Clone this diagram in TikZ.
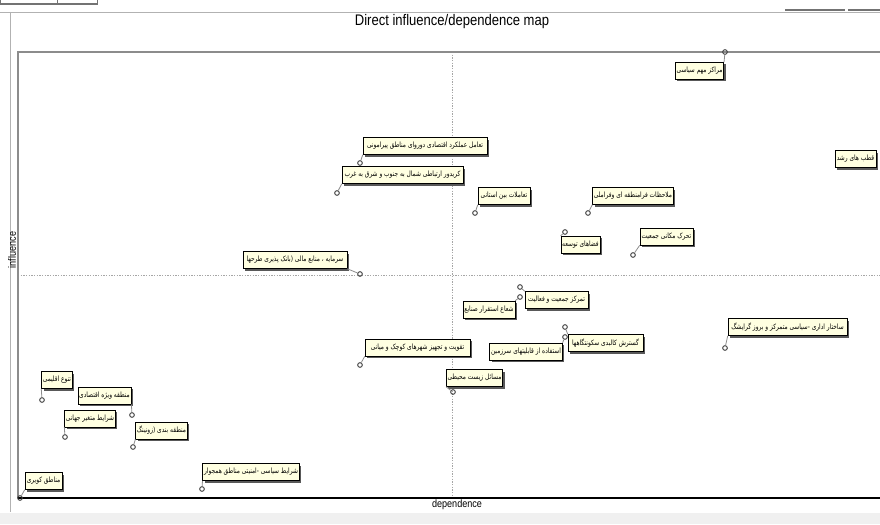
\documentclass[tikz,border=0pt]{standalone}
\usepackage{fontspec}
\setmainfont{Liberation Sans}
\newfontfamily\farsi[Script=Arabic,FakeStretch=0.8]{DejaVu Sans}
\newfontfamily\narrow[FakeStretch=0.85]{Liberation Sans}
\TeXXeTstate=1
\usepackage{tikz}
\usetikzlibrary{shadows}

\definecolor{boxyellow}{HTML}{FFFFE1}
\definecolor{framegray}{HTML}{8C8C8C}
\newcommand{\fa}[1]{\beginR #1\endR}

\begin{document}
\begin{tikzpicture}[
        x=0.75pt, y=-0.75pt,
        lbl/.style={draw, fill=boxyellow, inner sep=1pt, minimum height=12.75pt,
            font=\farsi\fontsize{5.5}{6.5}\selectfont,
            drop shadow={shadow xshift=1.5pt, shadow yshift=-1.5pt, fill=black!65, opacity=1}},
        pt/.style={circle, draw=black!75, line width=0.7pt, inner sep=0pt, minimum size=3.5pt},
        conn/.style={draw=black!45, line width=0.6pt},
    ]

    \useasboundingbox (0,0) rectangle (880,524);

    \fill[black!6] (0,513) rectangle (880,524);
    \draw[black!30] (0,12) -- (880,12);
    \draw[black!30] (10,12) -- (10,512);
    \draw[black!55, line width=0.8pt] (0,4) -- (97,4);
    \foreach \x in {0, 57, 97}
        \draw[black!55] (\x,0) -- (\x,5);
    \draw[black!55, line width=0.8pt] (785,10) -- (845,10);
    \draw[black!55, line width=0.8pt] (848,10) -- (880,10);

    \node[font=\narrow\fontsize{11.5}{13}\selectfont] (title) at (452,22) {Direct influence/dependence map};

    \draw[black!35, dash pattern=on 1pt off 1pt] (452,52) -- (452,498);
    \draw[black!35, dash pattern=on 1pt off 1pt] (18,275) -- (880,275);
    \draw[framegray, line width=1.5pt] (18,498) -- (18,52) -- (880,52);
    \draw[black, line width=0.8pt] (18,498) -- (880,498);

    \node[font=\narrow\fontsize{8}{9}\selectfont] (xlab) at (457,505) {dependence};
    \node[font=\narrow\fontsize{8}{9}\selectfont, rotate=90] (ylab) at (12,250) {influence};

    \node[lbl, minimum width=33.75pt] (siasi) at (699.5,71) {\fa{مراکز مهم سیاسی}};
    \node[lbl, minimum width=30.75pt] (qotb) at (855.5,159) {\fa{قطب های رشد}};
    \node[lbl, minimum width=93pt] (taamol) at (425,146) {\fa{تعامل عملکرد اقتصادی دوروای مناطق پیرامونی}};
    \node[lbl, minimum width=90.75pt] (koridor) at (402.5,175) {\fa{کریدور ارتباطی شمال به جنوب و شرق به غرب}};
    \node[lbl, minimum width=39pt] (bein) at (504,196) {\fa{تعاملات بین استانی}};
    \node[lbl, minimum width=60pt] (molahezat) at (633,196) {\fa{ملاحظات فرامنطقه ای وفراملی}};
    \node[lbl, minimum width=26.25pt] (fazaha) at (580.5,244.5) {\fa{فضاهای توسعه}};
    \node[lbl, minimum width=39.75pt] (taharok) at (666.5,236.5) {\fa{تحرک مکانی جمعیت}};
    \node[lbl, minimum width=78pt] (sarmaye) at (295,260) {\fa{سرمایه ، منابع مالی (بانک پذیری طرحها}};
    \node[lbl, minimum width=47.25pt] (tamarkoz) at (556.5,300) {\fa{تمرکز جمعیت و فعالیت}};
    \node[lbl, minimum width=36pt] (shoa) at (489,309.5) {\fa{شعاع استقرار صنایع}};
    \node[lbl, minimum width=56.25pt] (gostaresh) at (605.5,343) {\fa{گسترش کالبدی سکونتگاهها}};
    \node[lbl, minimum width=54pt] (estefade) at (526,351.5) {\fa{استفاده از قابلیتهای سرزمین}};
    \node[lbl, minimum width=27.75pt] (masael) at (474.5,378) {\fa{مسائل زیست محیطی}};
    \node[lbl, minimum width=78.75pt] (taghviat) at (417.5,347.5) {\fa{تقویت و تجهیز شهرهای کوچک و میانی}};
    \node[lbl, minimum width=89.25pt] (sakhtar) at (787.5,327) {\fa{ساختار اداری -سیاسی متمرکز و بروز گرایشگ}};
    \node[lbl, minimum width=16.5pt] (tanavo) at (57,380) {\fa{تنوع اقلیمی}};
    \node[lbl, minimum width=36.75pt] (vizhe) at (104.5,395.5) {\fa{منطقه ویژه اقتصادی}};
    \node[lbl, minimum width=33pt] (jahani) at (90,418.5) {\fa{شرایط متغیر جهانی}};
    \node[lbl, minimum width=35.25pt] (zoning) at (161.5,430.5) {\fa{منطقه بندی (زونینگ}};
    \node[lbl, minimum width=69pt] (hamjavar) at (251,472) {\fa{شرایط سیاسی -امنیتی مناطق همجوار}};
    \node[lbl, minimum width=27.75pt] (kaviri) at (43.5,481) {\fa{مناطق کویری}};

    \foreach \b/\x/\y/\c in {siasi/725/52/north east, taamol/360/163/south west,
            koridor/337/193/south west, bein/475/213/south west,
            molahezat/588/213/south west, fazaha/565/232/north west,
            taharok/633/255/south west, sarmaye/360/274/south east,
            tamarkoz/520/287/north west, shoa/520/297/north east,
            gostaresh/565/327/north west, estefade/565/337/north east,
            masael/453/392/south west, taghviat/360/365/south west,
            sakhtar/725/348/south west, tanavo/42/400/south west,
            vizhe/132/415/south east, jahani/65/437/south west,
            zoning/133/447/south west, hamjavar/202/489/south west,
            kaviri/20/498/south west}
    {
        \node[pt] (p-\b) at (\x,\y) {};
        \draw[conn] (p-\b) -- (\b.\c);
    }

\end{tikzpicture}
\end{document}
